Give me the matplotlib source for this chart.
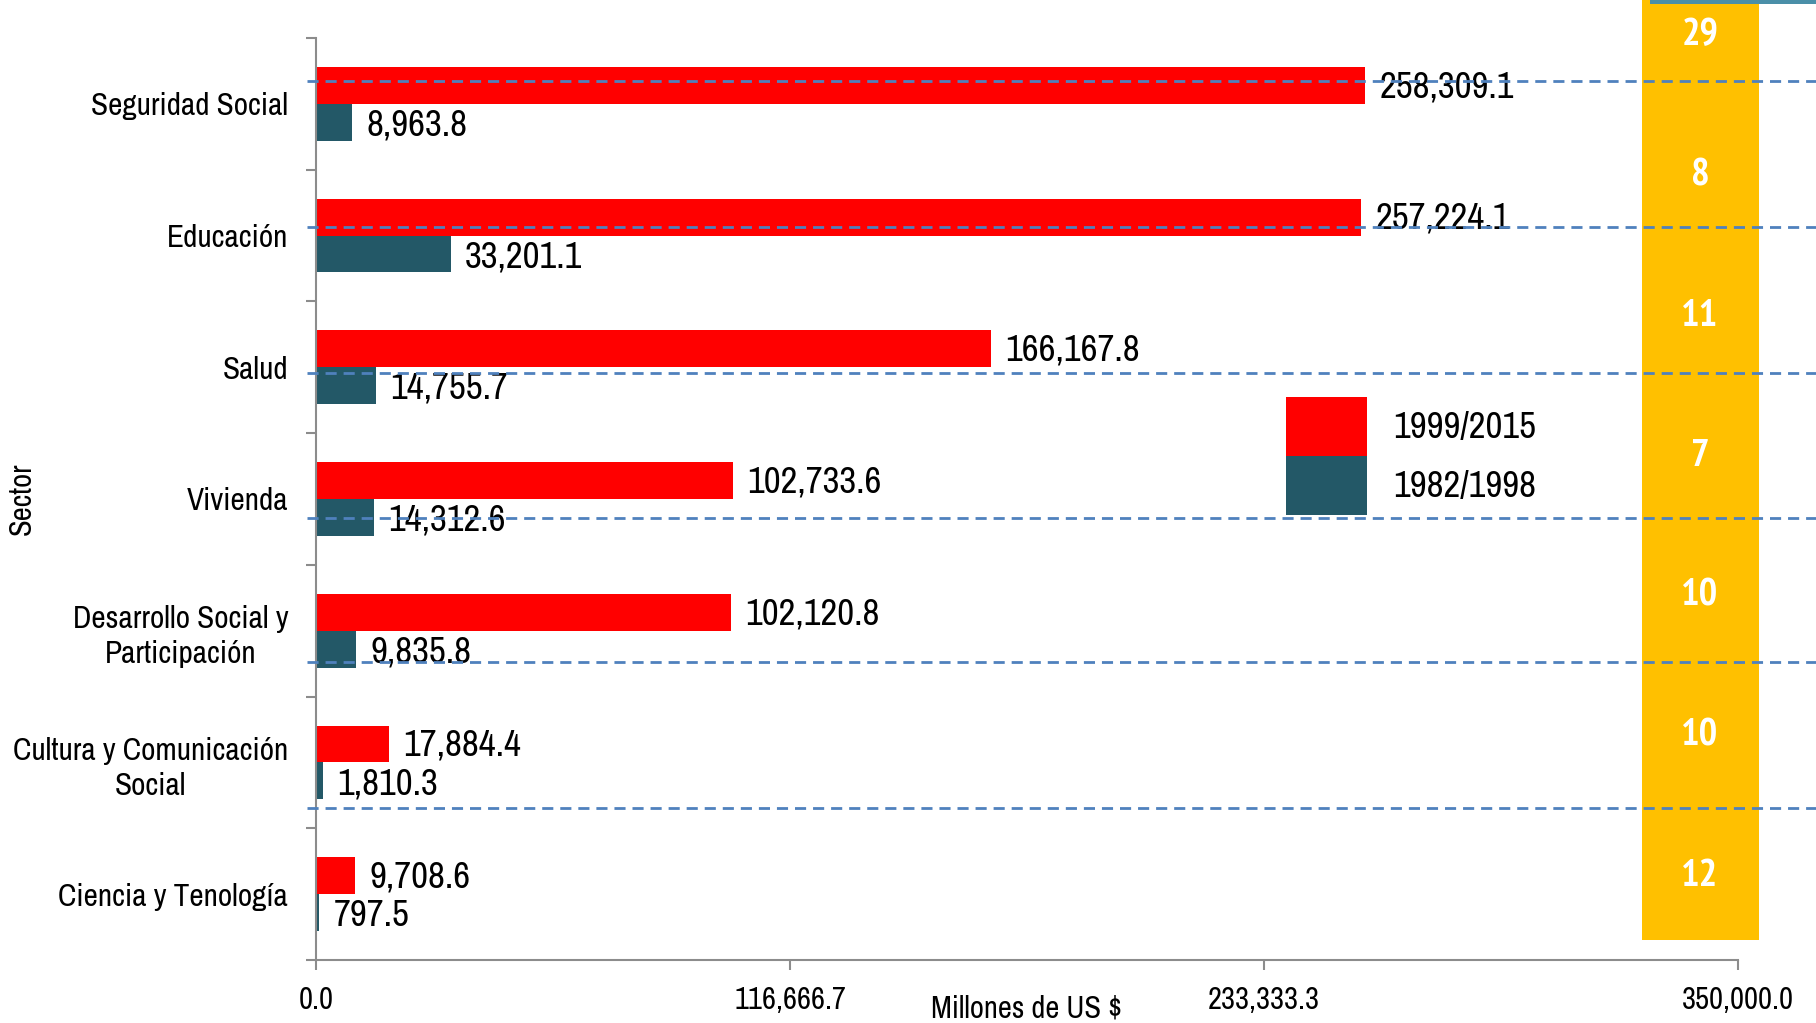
import numpy as np
import matplotlib.pyplot as plt
import matplotlib.font_manager as fm
from matplotlib.patches import Rectangle
from matplotlib.lines import Line2D

# buscar una fuente angosta tipo Arial Narrow
pesos = {}
for f in fm.fontManager.ttflist:
    pesos.setdefault(f.name, set()).add(f.weight if isinstance(f.weight, int) else 400)
preferidas = ["Liberation Sans Narrow", "Arial Narrow", "Archivo Narrow", "PT Sans Narrow",
              "Roboto Condensed", "Open Sans Condensed", "Sofia Sans Condensed", "Asap Condensed"]
fuente = next((f for f in preferidas if f in pesos), "DejaVu Sans")
fuente_negrita = next((f for f in preferidas if f in pesos and max(pesos[f]) >= 700), "DejaVu Sans")
plt.rcParams['font.family'] = [fuente, 'DejaVu Sans']

# datos
sectores = ["Seguridad Social", "Educación", "Salud", "Vivienda",
            "Desarrollo Social y\nParticipación", "Cultura y Comunicación\nSocial",
            "Ciencia y Tenología"]
periodo_2 = [258309.1, 257224.1, 166167.8, 102733.6, 102120.8, 17884.4, 9708.6]
periodo_1 = [8963.8, 33201.1, 14755.7, 14312.6, 9835.8, 1810.3, 797.5]
etiquetas = ["1999/2015", "1982/1998"]
conteos = [29, 8, 11, 7, 10, 10, 12]
xticks = [0.0, 116666.7, 233333.3, 350000.0]

W, H = 1816, 1023
fig = plt.figure(figsize=(W / 100, H / 100), dpi=100)
ax = fig.add_axes([316 / W, 63 / H, 1422 / W, 922 / H])

y = np.arange(len(sectores))
alto = 0.28
rojo = "#FF0000"
azul = "#235867"

ax.barh(y - alto / 2, periodo_2, height=alto, color=rojo, label=etiquetas[0], zorder=2)
ax.barh(y + alto / 2, periodo_1, height=alto, color=azul, label=etiquetas[1], zorder=2)

for yi, v in zip(y, periodo_2):
    ax.text(v + 3500, yi - alto / 2 + 0.01, f"{v:,.1f}", va="center", ha="left", fontsize=26.5, zorder=4)
for yi, v in zip(y, periodo_1):
    ax.text(v + 3500, yi + alto / 2 + 0.02, f"{v:,.1f}", va="center", ha="left", fontsize=26.5, zorder=4)

ax.set_xlim(0, 350000)
ax.set_ylim(len(sectores) - 0.5, -0.5)

# ejes
for s in ["top", "right"]:
    ax.spines[s].set_visible(False)
for s in ["left", "bottom"]:
    ax.spines[s].set_color("#8c8c8c")
    ax.spines[s].set_linewidth(1.5)

ax.set_yticks(np.arange(-0.5, len(sectores), 1.0))
ax.set_yticklabels([])
ax.set_yticks(y, minor=True)
ax.set_yticklabels(sectores, minor=True, fontsize=22.5, multialignment="center", linespacing=1.3)
ax.tick_params(axis="y", which="major", length=7, color="#8c8c8c", width=1.5)
ax.tick_params(axis="y", which="minor", length=0, pad=20)

ax.set_xticks(xticks)
ax.set_xticklabels([f"{t:,.1f}" for t in xticks], fontsize=22)
ax.tick_params(axis="x", length=7, color="#8c8c8c", width=1.5, pad=12)

ax.set_xlabel("Millones de US $", fontsize=22)
ax.xaxis.set_label_coords(0.5, -0.037)
ax.set_ylabel("Sector", fontsize=22)
ax.yaxis.set_label_coords(-0.197, 0.5)

ax.legend(loc="center left", bbox_to_anchor=(1286 / W, 1 - 456 / H), bbox_transform=fig.transFigure,
          frameon=False, fontsize=26.5, handlelength=2.2, handleheight=2.1,
          labelspacing=0.0, handletextpad=0.7, borderpad=0, borderaxespad=0)

# columna amarilla
fig.patches.append(Rectangle((1642 / W, 83 / H), 117 / W, 1.0, transform=fig.transFigure,
                             facecolor="#FFC000", edgecolor="none", zorder=0))
fig.patches.append(Rectangle((1650 / W, 1 - 4 / H), 170 / W, 4 / H, transform=fig.transFigure,
                             facecolor="#4a8fa8", edgecolor="none", zorder=1))
for i, c in enumerate(conteos):
    fig.text(1700 / W, 1 - (36 + 140 * i) / H, str(c), color="white", fontsize=28,
             fontweight="bold", family=[fuente_negrita, "DejaVu Sans"],
             ha="center", va="center", zorder=5)

# lineas punteadas
for yy in [81, 227, 373, 518, 662, 808]:
    fig.lines.append(Line2D([307 / W, 1.0], [1 - yy / H, 1 - yy / H], transform=fig.transFigure,
                            color="#4F81BD", linewidth=2.0, linestyle=(0, (4, 2.5)), zorder=3))

fig.savefig("out.png", dpi=100)
